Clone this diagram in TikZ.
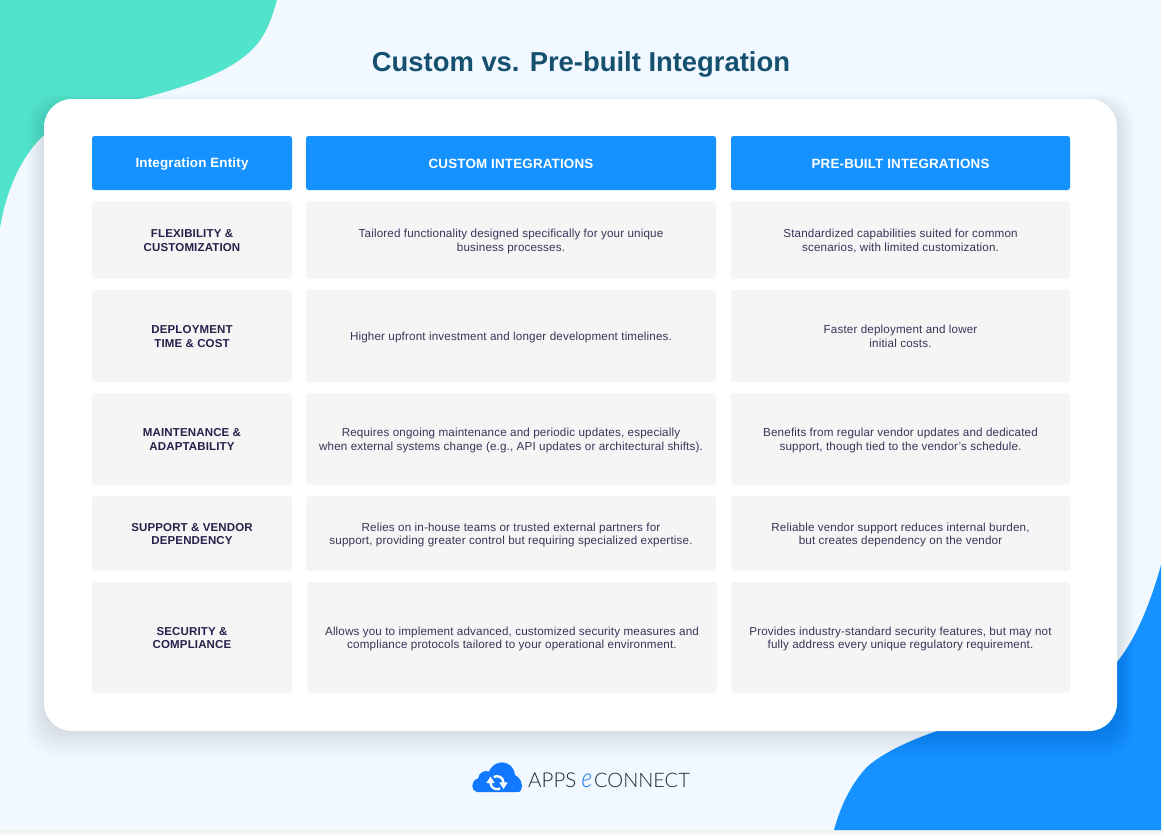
\documentclass[tikz,border=0pt]{standalone}
\usepackage{fontspec}
\setmainfont{Liberation Sans}[LetterSpace=1.3]
\newfontfamily\titlefont{Liberation Sans}
\newfontfamily\logofont{Lato Light}
\newfontfamily\logoefont{Lato Light Italic}
\usetikzlibrary{arrows.meta}
\definecolor{bgc}{HTML}{F1F8FF}
\definecolor{teal}{HTML}{52E3CC}
\definecolor{blu}{HTML}{1592FF}
\definecolor{cellc}{HTML}{F5F5F5}
\definecolor{txt}{HTML}{3B3358}
\definecolor{hd}{HTML}{2A1E4A}
\definecolor{ttl}{HTML}{16506F}
\definecolor{logotxt}{HTML}{1E2633}
\definecolor{logoblue}{HTML}{1F7CEB}
\newcommand{\tx}[1]{\raisebox{-1.8pt}[\height][\depth]{\begin{tabular}{@{}c@{}}#1\end{tabular}}}
\newcommand{\txh}[1]{\raisebox{-1pt}[\height][\depth]{#1}}
\tikzset{
  hdr/.style={fill=blu,rounded corners=2.5pt,inner sep=0pt,text=white,font=\fontsize{13.4}{15}\selectfont\bfseries},
  cell/.style={fill=cellc,rounded corners=3pt,inner sep=0pt,text=txt,font=\fontsize{11.65}{13.3}\selectfont},
  lab/.style={cell,text=hd,font=\fontsize{11.5}{13.3}\selectfont\bfseries},
}
\newcommand{\rowcells}[8]{% name, ytop, ybottom, label, text2, text3, x2 left, x2 right
  \pgfmathsetmacro{\ymid}{(#2+#3)/2}\pgfmathsetmacro{\hh}{#3-#2}\pgfmathsetmacro{\cxb}{(#7+#8)/2}\pgfmathsetmacro{\wwb}{#8-#7}
  \node[lab,minimum width=200pt,minimum height=\hh pt] (#1a) at (192,\ymid) {\tx{#4}};
  \node[cell,minimum width=\wwb pt,minimum height=\hh pt] (#1b) at (\cxb,\ymid) {\tx{#5}};
  \node[cell,minimum width=339pt,minimum height=\hh pt] (#1c) at (900.5,\ymid) {\tx{#6}};
}
\begin{document}
\begin{tikzpicture}[x=1pt,y=-1pt]
\useasboundingbox (0,0) rectangle (1164,836);
\fill[white] (0,0) rectangle (1164,836);
\foreach \i in {1,...,5}{\fill[black,opacity=.012] (0,829) rectangle (1161+\i*.6,830+\i*1.1);}
\fill[bgc] (0,0) rectangle (1161,830);
% blobs
\fill[teal] (0,0) -- (277,0) .. controls (270,25) and (264,35) .. (258,43)
  .. controls (235,72) and (185,87) .. (139,99) -- (100,125) -- (44,135)
  .. controls (22,155) and (6,190) .. (0,228) -- cycle;
\fill[blu] (1161,565) .. controls (1150,605) and (1135,640) .. (1117,662)
  -- (1100,720) -- (937,731) .. controls (905,742) and (880,755) .. (867,767)
  .. controls (850,785) and (840,808) .. (834,830) -- (1161,830) -- cycle;
% card shadow
\foreach \i in {1,...,13}{
  \fill[black!75!blue,opacity=.0095,rounded corners=28pt] (44-\i*1.3,99+8-\i*1) rectangle (1117+\i*1.3,731+\i*2);
}
\fill[white,rounded corners=28pt] (44,99) rectangle (1117,731);
% title
\node[text=ttl,font=\titlefont\fontsize{27.4}{32}\selectfont\bfseries] (title) at (581,64) {Custom vs. Pre-built Integration};
% header row
\node[hdr,minimum width=200pt,minimum height=54pt] (h1) at (192,163) {\txh{Integration Entity}};
\node[hdr,minimum width=410pt,minimum height=54pt] (h2) at (511,163) {\txh{CUSTOM INTEGRATIONS}};
\node[hdr,minimum width=339pt,minimum height=54pt] (h3) at (900.5,163) {\txh{PRE-BUILT INTEGRATIONS}};
% rows
\rowcells{r1}{201}{279}{FLEXIBILITY \&\\CUSTOMIZATION}{Tailored functionality designed specifically for your unique\\business processes.}{Standardized capabilities suited for common\\scenarios, with limited customization.}{306}{716}
\rowcells{r2}{290}{382}{DEPLOYMENT\\TIME \& COST}{Higher upfront investment and longer development timelines.}{Faster deployment and lower\\initial costs.}{306}{716}
\rowcells{r3}{393}{485}{MAINTENANCE \&\\ADAPTABILITY}{Requires ongoing maintenance and periodic updates, especially\\when external systems change (e.g., API updates or architectural shifts).}{Benefits from regular vendor updates and dedicated\\support, though tied to the vendor's schedule.}{306}{716}
\rowcells{r4}{496}{571}{SUPPORT \& VENDOR\\DEPENDENCY}{Relies on in-house teams or trusted external partners for\\support, providing greater control but requiring specialized expertise.}{Reliable vendor support reduces internal burden,\\but creates dependency on the vendor}{306}{716}
\rowcells{r5}{582}{693}{SECURITY \&\\COMPLIANCE}{Allows you to implement advanced, customized security measures and\\compliance protocols tailored to your operational environment.}{Provides industry-standard security features, but may not\\fully address every unique regulatory requirement.}{307}{717}
% logo
\fill[blu!82!blue] (477,792) .. controls (471,791) and (470,781) .. (478,778.5)
  .. controls (479,772) and (485,770) .. (489,771.5)
  .. controls (492,764) and (501,760) .. (508,764)
  .. controls (512,766) and (514.5,770) .. (515,775)
  .. controls (520,777) and (524,785) .. (521,790)
  .. controls (520,792) and (519,792) .. (517,792) -- cycle;
\draw[white,line width=2.3pt] (500.25,788.3) arc[start angle=60,end angle=180,radius=6.5];
\draw[white,line width=2.3pt] (493.75,777.1) arc[start angle=240,end angle=360,radius=6.5];
\fill[white] (486.3,783) -- (494.7,783) -- (490.5,776.5) -- cycle;
\fill[white] (499.3,782.4) -- (507.7,782.4) -- (503.5,789) -- cycle;
\node[anchor=base west,inner sep=0pt,text=logotxt,font=\logofont\fontsize{20.5}{24}\selectfont] (logoa) at (528,787.5) {APPS};
\node[anchor=base west,inner sep=0pt,xscale=.85,text=logoblue,font=\logoefont\fontsize{27}{24}\selectfont] (logoe) at (581.5,787.5) {e};
\node[anchor=base east,inner sep=0pt,text=logotxt,font=\logofont\fontsize{20}{24}\selectfont] (logob) at (690,787.5) {CONNECT};
\end{tikzpicture}
\end{document}
